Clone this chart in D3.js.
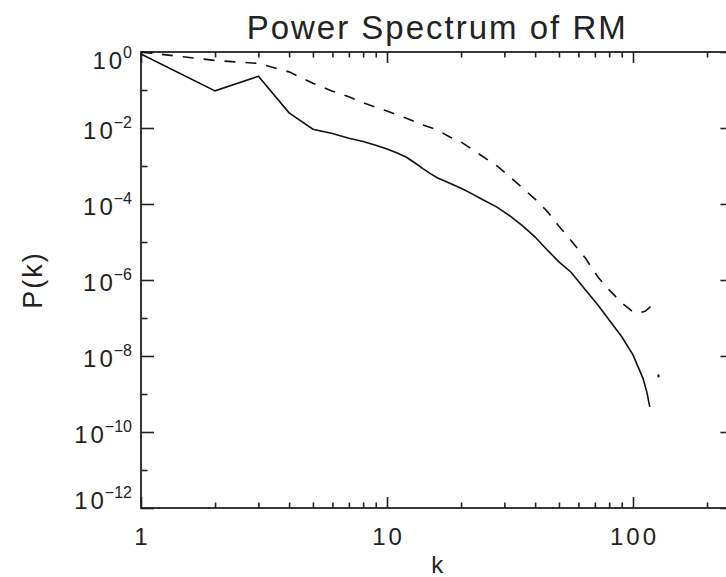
<!DOCTYPE html>
<html>
<head>
<meta charset="utf-8">
<script src="https://cdn.jsdelivr.net/npm/d3@7"></script>
<style>
  body { margin: 0; background: #fff; }
  svg { display: block; }
  text { font-family: "Liberation Sans", Arial, sans-serif; fill: #222; }
</style>
</head>
<body>
<div id="chart"></div>
<script>
// solid curve
var kSolid = [1, 2, 3, 4, 5, 6, 7, 8, 9, 10, 11, 12, 13, 14, 15, 16, 18, 20, 22, 24,
    28, 32, 36, 40, 45, 50, 56, 64, 72, 80, 90, 100, 105, 110, 114, 117];
var pSolid = [0.89, 9.5e-2, 2.3e-1, 2.5e-2, 9.3e-3, 7.2e-3, 5.4e-3, 4.4e-3, 3.5e-3, 2.8e-3,
    2.2e-3, 1.7e-3, 1.2e-3, 8.5e-4, 6.3e-4, 4.9e-4, 3.5e-4, 2.6e-4, 1.9e-4, 1.4e-4,
    8.3e-5, 4.6e-5, 2.5e-5, 1.35e-5, 6.0e-6, 3.0e-6, 1.6e-6, 5.5e-7, 2.2e-7, 8.9e-8,
    3.2e-8, 1.07e-8, 5.1e-9, 2.5e-9, 1.07e-9, 4.6e-10];
// lone point past the end of the solid curve
var kSolidTail = [127];
var pSolidTail = [3.0e-9];

// dashed curve
var kDashed = [1, 2, 3, 4, 5, 6, 7, 8, 9, 10, 12, 14, 16, 18, 20, 24, 28, 32, 36, 40,
    45, 50, 56, 64, 72, 80, 90, 100, 105, 112, 120, 126];
var pDashed = [1.0, 0.60, 0.50, 0.30, 0.15, 9.3e-2, 6.6e-2, 4.6e-2, 3.5e-2, 2.8e-2,
    1.8e-2, 1.2e-2, 8.9e-3, 5.8e-3, 4.3e-3, 1.95e-3, 1.0e-3, 4.8e-4, 2.45e-4, 1.35e-4,
    6.2e-5, 2.6e-5, 1.1e-5, 3.8e-6, 1.2e-6, 5.5e-7, 2.5e-7, 1.45e-7, 1.35e-7, 1.5e-7,
    2.2e-7, 2.8e-7];

// ticks
var xMajor = [1, 10, 100];
var xMajorLabels = ['1', '10', '100'];
var xMinor = [2, 3, 4, 5, 6, 7, 8, 9, 20, 30, 40, 50, 60, 70, 80, 90, 200];
var yMajor = [1, 1e-2, 1e-4, 1e-6, 1e-8, 1e-10, 1e-12];
var yMajorExp = ['0', '\u22122', '\u22124', '\u22126', '\u22128', '\u221210', '\u221212'];
var yMinor = [1e-1, 1e-3, 1e-5, 1e-7, 1e-9, 1e-11];

(function () {
    var W = 726, H = 577;
    var marginLeft = 141, marginTop = 52, decadeX = 246, decadeY = 38;

    var svg = d3.select('#chart').append('svg')
        .attr('width', W)
        .attr('height', H);

    var x = d3.scaleLog()
        .domain([1, 256])
        .range([marginLeft, marginLeft + decadeX * Math.log10(256)]);

    var y = d3.scaleLog()
        .domain([1e-12, 1])
        .range([marginTop + decadeY * 12, marginTop]);

    var x0 = x.range()[0], x1 = x.range()[1];
    var y0 = y.range()[0], y1 = y.range()[1];

    var frame = svg.append('g').attr('class', 'frame');

    function styleAxis(g) {
        g.select('.domain').remove();
        g.selectAll('line').attr('stroke', '#222').attr('stroke-width', 1.6);
        g.selectAll('text').remove();
    }

    // bottom + top ticks
    frame.append('g').attr('transform', 'translate(0,' + y0 + ')')
        .call(d3.axisBottom(x).tickValues(xMajor).tickSize(-11)).call(styleAxis);
    frame.append('g').attr('transform', 'translate(0,' + y0 + ')')
        .call(d3.axisBottom(x).tickValues(xMinor).tickSize(-5.5)).call(styleAxis);
    frame.append('g').attr('transform', 'translate(0,' + y1 + ')')
        .call(d3.axisTop(x).tickValues(xMajor).tickSize(-11)).call(styleAxis);
    frame.append('g').attr('transform', 'translate(0,' + y1 + ')')
        .call(d3.axisTop(x).tickValues(xMinor).tickSize(-5.5)).call(styleAxis);

    // left + right ticks
    frame.append('g').attr('transform', 'translate(' + x0 + ',0)')
        .call(d3.axisLeft(y).tickValues(yMajor).tickSize(-13)).call(styleAxis);
    frame.append('g').attr('transform', 'translate(' + x0 + ',0)')
        .call(d3.axisLeft(y).tickValues(yMinor).tickSize(-6.5)).call(styleAxis);
    frame.append('g').attr('transform', 'translate(' + x1 + ',0)')
        .call(d3.axisRight(y).tickValues(yMajor).tickSize(-13)).call(styleAxis);
    frame.append('g').attr('transform', 'translate(' + x1 + ',0)')
        .call(d3.axisRight(y).tickValues(yMinor).tickSize(-6.5)).call(styleAxis);

    frame.append('rect')
        .attr('x', x0).attr('y', y1)
        .attr('width', x1 - x0).attr('height', y0 - y1)
        .attr('fill', 'none')
        .attr('stroke', '#222')
        .attr('stroke-width', 1.8);

    // x tick labels
    svg.append('g').selectAll('text')
        .data(xMajor)
        .enter()
        .append('text')
        .attr('x', function (d) { return x(d) + 1.5; })
        .attr('y', y0 + 37)
        .attr('text-anchor', 'middle')
        .style('font-size', '24px')
        .style('letter-spacing', '3px')
        .text(function (d, i) { return xMajorLabels[i]; });

    // y tick labels: 10 with superscript exponent
    var yLabels = svg.append('g').selectAll('text')
        .data(yMajor)
        .enter()
        .append('text')
        .attr('x', x0 - 9)
        .attr('y', function (d, i) {
            if (i === 0) return y(d) + 17;
            if (i === yMajor.length - 1) return y(d) + 1;
            return y(d) + 11;
        })
        .attr('text-anchor', 'end');

    yLabels.append('tspan')
        .style('font-size', '24px')
        .style('letter-spacing', '3px')
        .text('10');
    yLabels.append('tspan')
        .attr('dy', -11)
        .attr('dx', -2)
        .style('font-size', '16px')
        .text(function (d, i) { return yMajorExp[i]; });

    // curves
    var line = d3.line()
        .x(function (d) { return x(d.k); })
        .y(function (d) { return y(d.p); });

    var solid = kSolid.map(function (k, i) { return {k: k, p: pSolid[i]}; });
    var dashed = kDashed.map(function (k, i) { return {k: k, p: pDashed[i]}; });
    var tail = kSolidTail.map(function (k, i) { return {k: k, p: pSolidTail[i]}; });

    var plot = svg.append('g').attr('class', 'curves');

    plot.append('path')
        .datum(solid)
        .attr('d', line)
        .attr('fill', 'none')
        .attr('stroke', '#111')
        .attr('stroke-width', 1.6);

    plot.append('path')
        .datum(dashed)
        .attr('d', line)
        .attr('fill', 'none')
        .attr('stroke', '#111')
        .attr('stroke-width', 1.6)
        .attr('stroke-dasharray', '11,10');

    plot.selectAll('.tail')
        .data(tail)
        .enter()
        .append('rect')
        .attr('class', 'tail')
        .attr('x', function (d) { return x(d.k) - 1; })
        .attr('y', function (d) { return y(d.p) - 1.5; })
        .attr('width', 2)
        .attr('height', 3)
        .attr('fill', '#111');

    // titles
    svg.append('text')
        .attr('x', (x0 + x1) / 2)
        .attr('y', 39)
        .attr('text-anchor', 'middle')
        .style('font-size', '33px')
        .style('letter-spacing', '2px')
        .text('Power Spectrum of RM');

    svg.append('text')
        .attr('x', (x0 + x1) / 2)
        .attr('y', 573)
        .attr('text-anchor', 'middle')
        .style('font-size', '24px')
        .text('k');

    svg.append('text')
        .attr('transform', 'translate(42,' + ((y0 + y1) / 2) + ') rotate(-90)')
        .attr('text-anchor', 'middle')
        .style('font-size', '27px')
        .style('letter-spacing', '2px')
        .text('P(k)');
})();
</script>
</body>
</html>
